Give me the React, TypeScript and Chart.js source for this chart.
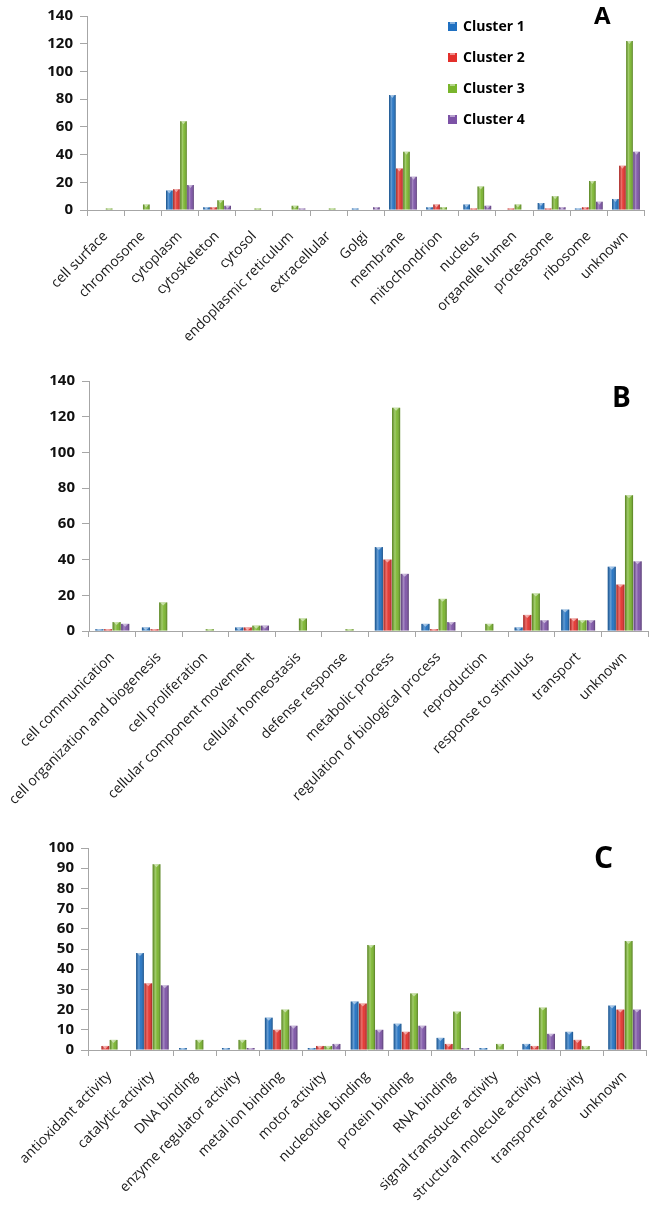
import React, { useEffect, useRef } from "react";
import { Chart, registerables } from "chart.js";

Chart.register(...registerables);
Chart.defaults.font.family = "'Open Sans', sans-serif";

const seriesNames = ["Cluster 1", "Cluster 2", "Cluster 3", "Cluster 4"];
const seriesColors = ["#1f70c1", "#e3302b", "#79b52c", "#7c52a6"];

// Panel A – cellular component
const componentCategories = ["cell surface", "chromosome", "cytoplasm", "cytoskeleton", "cytosol", "endoplasmic reticulum", "extracellular", "Golgi", "membrane", "mitochondrion", "nucleus", "organelle lumen", "proteasome", "ribosome", "unknown"];
const componentCluster1 = [0, 0, 14, 2, 0, 0, 0, 1, 83, 2, 4, 0, 5, 1, 8];
const componentCluster2 = [0, 0, 15, 2, 0, 0, 0, 0, 30, 4, 1, 1, 1, 2, 32];
const componentCluster3 = [1, 4, 64, 7, 1, 3, 1, 0, 42, 2, 17, 4, 10, 21, 122];
const componentCluster4 = [0, 0, 18, 3, 0, 1, 0, 2, 24, 0, 3, 0, 2, 6, 42];
const componentTicks = [0, 20, 40, 60, 80, 100, 120, 140];

// Panel B – biological process
const processCategories = ["cell communication", "cell organization and biogenesis", "cell proliferation", "cellular component movement", "cellular homeostasis", "defense response", "metabolic process", "regulation of biological process", "reproduction", "response to stimulus", "transport", "unknown"];
const processCluster1 = [1, 2, 0, 2, 0, 0, 47, 4, 0, 2, 12, 36];
const processCluster2 = [1, 1, 0, 2, 0, 0, 40, 1, 0, 9, 7, 26];
const processCluster3 = [5, 16, 1, 3, 7, 1, 125, 18, 4, 21, 6, 76];
const processCluster4 = [4, 0, 0, 3, 0, 0, 32, 5, 0, 6, 6, 39];
const processTicks = [0, 20, 40, 60, 80, 100, 120, 140];

// Panel C – molecular function
const functionCategories = ["antioxidant activity", "catalytic activity", "DNA binding", "enzyme regulator activity", "metal ion binding", "motor activity", "nucleotide binding", "protein binding", "RNA binding", "signal transducer activity", "structural molecule activity", "transporter activity", "unknown"];
const functionCluster1 = [0, 48, 1, 1, 16, 1, 24, 13, 6, 1, 3, 9, 22];
const functionCluster2 = [2, 33, 0, 0, 10, 2, 23, 9, 3, 0, 2, 5, 20];
const functionCluster3 = [5, 92, 5, 5, 20, 2, 52, 28, 19, 3, 21, 2, 54];
const functionCluster4 = [0, 32, 0, 1, 12, 3, 10, 12, 1, 0, 8, 0, 20];
const functionTicks = [0, 10, 20, 30, 40, 50, 60, 70, 80, 90, 100];

const decorPlugin = {
  id: "panelDecor",
  afterDatasetsDraw(chart: any) {
    const ctx = chart.ctx;
    ctx.save();
    chart.data.datasets.forEach((_ds: any, di: number) => {
      const meta = chart.getDatasetMeta(di);
      meta.data.forEach((el: any) => {
        const p = el.getProps(["x", "y", "base", "width"], true);
        const h = p.base - p.y;
        if (h <= 0.5) return;
        const left = p.x - p.width / 2;
        const g = ctx.createLinearGradient(left, 0, left + p.width, 0);
        g.addColorStop(0, "rgba(0,0,0,0.28)");
        g.addColorStop(0.35, "rgba(255,255,255,0.30)");
        g.addColorStop(0.6, "rgba(255,255,255,0.05)");
        g.addColorStop(1, "rgba(0,0,0,0.32)");
        ctx.fillStyle = g;
        ctx.fillRect(left, p.y, p.width, h);
        ctx.fillStyle = "rgba(255,255,255,0.5)";
        ctx.beginPath();
        ctx.moveTo(left + 1, p.y);
        ctx.lineTo(left + p.width - 1, p.y);
        ctx.lineTo(p.x, p.y + Math.min(3, h));
        ctx.closePath();
        ctx.fill();
      });
    });
    ctx.restore();
  },
  afterDraw(chart: any, _args: any, opts: any) {
    const ctx = chart.ctx;
    ctx.save();
    if (opts.letter) {
      ctx.font = `bold ${opts.letterSize}px 'Open Sans', sans-serif`;
      ctx.fillStyle = "#000";
      ctx.textAlign = "left";
      ctx.textBaseline = "alphabetic";
      ctx.fillText(opts.letter, opts.letterX, opts.letterY);
    }
    if (opts.legend) {
      ctx.font = "bold 14px 'Open Sans', sans-serif";
      ctx.textBaseline = "middle";
      ctx.textAlign = "left";
      chart.data.datasets.forEach((ds: any, i: number) => {
        const cy = opts.legendY + i * 31;
        ctx.fillStyle = ds.backgroundColor;
        ctx.fillRect(opts.legendX, cy - 4, 9, 9);
        ctx.fillStyle = "rgba(255,255,255,0.45)";
        ctx.fillRect(opts.legendX + 2, cy - 4, 5, 2);
        ctx.fillStyle = "#000";
        ctx.fillText(ds.label, opts.legendX + 15, cy + 1);
      });
    }
    ctx.restore();
  },
};

type PanelProps = {
  labels: string[];
  series: number[][];
  ticks: number[];
  top: number;
  h: number;
  padTop: number;
  padRight: number;
  axisX: number;
  xAxisH: number;
  catPct: number;
  letter: string;
  letterX: number;
  letterY: number;
  letterSize: number;
  legend?: boolean;
};

function BarPanel(props: PanelProps) {
  const ref = useRef<HTMLCanvasElement>(null);
  useEffect(() => {
    const tickVals = props.ticks;
    const chart = new Chart(ref.current as HTMLCanvasElement, {
      type: "bar",
      data: {
        labels: props.labels,
        datasets: props.series.map((d, i) => ({
          label: seriesNames[i],
          data: d,
          backgroundColor: seriesColors[i],
          borderWidth: 0,
          categoryPercentage: props.catPct,
          barPercentage: 0.94,
        })),
      },
      options: {
        animation: false,
        responsive: false,
        maintainAspectRatio: false,
        events: [],
        layout: { padding: { top: props.padTop, right: props.padRight, left: 0, bottom: 0 } },
        plugins: {
          legend: { display: false },
          tooltip: { enabled: false },
          panelDecor: {
            letter: props.letter,
            letterX: props.letterX,
            letterY: props.letterY,
            letterSize: props.letterSize,
            legend: !!props.legend,
            legendX: 448,
            legendY: 26,
          },
        } as any,
        scales: {
          x: {
            grid: { offset: true, drawOnChartArea: false, drawTicks: true, tickLength: 6, color: "#a6a6a6" },
            border: { color: "#a6a6a6" },
            ticks: {
              autoSkip: false,
              minRotation: 45,
              maxRotation: 45,
              font: { size: 14 },
              color: "#1a1a1a",
              padding: 12,
            },
            afterFit: (s: any) => {
              s.height = props.xAxisH;
            },
          },
          y: {
            min: tickVals[0],
            max: tickVals[tickVals.length - 1],
            afterBuildTicks: (s: any) => {
              s.ticks = tickVals.map((v) => ({ value: v }));
            },
            ticks: { autoSkip: false, font: { size: 15, weight: "bold" }, color: "#111", padding: 7 },
            grid: { drawOnChartArea: false, tickLength: 7, color: "#a6a6a6" },
            border: { color: "#a6a6a6" },
            afterFit: (s: any) => {
              s.width = props.axisX;
            },
          },
        },
      } as any,
      plugins: [decorPlugin],
    });
    return () => chart.destroy();
  }, []);
  return (
    <canvas
      ref={ref}
      width={650}
      height={props.h}
      style={{ position: "absolute", left: 0, top: props.top, width: 650, height: props.h }}
    />
  );
}

export default function App() {
  return (
    <div style={{ position: "absolute", left: 0, top: 0, width: 650, height: 1215, background: "#fff", overflow: "hidden" }}>
      <BarPanel
        labels={componentCategories}
        series={[componentCluster1, componentCluster2, componentCluster3, componentCluster4]}
        ticks={componentTicks}
        top={0}
        h={380}
        padTop={13}
        padRight={5}
        axisX={87}
        xAxisH={170}
        catPct={0.76}
        letter="A"
        letterX={594}
        letterY={24}
        letterSize={24}
        legend
      />
      <BarPanel
        labels={processCategories}
        series={[processCluster1, processCluster2, processCluster3, processCluster4]}
        ticks={processTicks}
        top={360}
        h={475}
        padTop={21}
        padRight={2}
        axisX={89}
        xAxisH={204}
        catPct={0.74}
        letter="B"
        letterX={612}
        letterY={47}
        letterSize={28}
      />
      <BarPanel
        labels={functionCategories}
        series={[functionCluster1, functionCluster2, functionCluster3, functionCluster4]}
        ticks={functionTicks}
        top={825}
        h={390}
        padTop={23}
        padRight={4}
        axisX={88}
        xAxisH={165}
        catPct={0.77}
        letter="C"
        letterX={594}
        letterY={43}
        letterSize={30}
      />
    </div>
  );
}
